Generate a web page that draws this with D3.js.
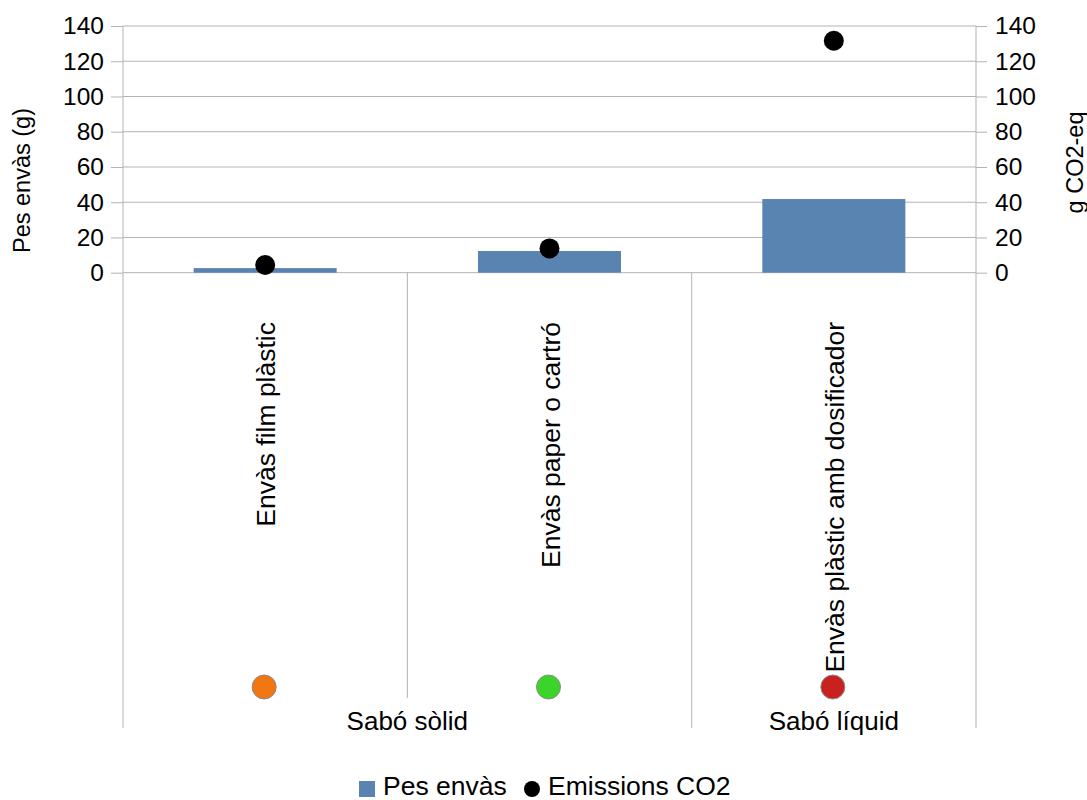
<!DOCTYPE html>
<html>
<head>
<meta charset="utf-8">
<script src="https://cdn.jsdelivr.net/npm/d3@7"></script>
<style>
  body { margin: 0; background: #fff; }
  svg { display: block; font-family: "Liberation Sans", Arial, sans-serif; }
</style>
</head>
<body>
<svg id="chart" width="1087" height="800"></svg>
<script>
const categories = ["Envàs film plàstic", "Envàs paper o cartró", "Envàs plàstic amb dosificador"];
const groupOf = ["Sabó sòlid", "Sabó sòlid", "Sabó líquid"];
const markerColors = ["#f27612", "#3ad42a", "#c9211e"];
const pesEnvas = [2.6, 12.3, 41.8];
const emissionsCO2 = [4.4, 13.8, 131.6];
const yTicks = [0, 20, 40, 60, 80, 100, 120, 140];
const seriesNames = ["Pes envàs", "Emissions CO2"];

const svg = d3.select("#chart");
const L = 123, R = 976, T = 26, B = 272.7;
const catBottom = 698, groupBottom = 728;
const gridColor = "#b3b3b3";
const barColor = "#5983b0";

const x = d3.scaleBand().domain(categories).range([L, R]).padding(0);
const xb = d3.scaleBand().domain(categories).range([L, R]).paddingInner(0.497).paddingOuter(0.2485);
const yL = d3.scaleLinear().domain([0, 140]).range([B, T]);
const yR = d3.scaleLinear().domain([0, 140]).range([B, T]);

// gridlines
svg.append("g").selectAll("line").data(yTicks).join("line")
  .attr("x1", L).attr("x2", R)
  .attr("y1", d => yL(d)).attr("y2", d => yL(d))
  .attr("stroke", gridColor).attr("stroke-width", 1);

// left axis
const axL = svg.append("g").attr("transform", `translate(${L},0)`)
  .call(d3.axisLeft(yL).tickValues(yTicks).tickSize(12).tickPadding(7));
axL.select(".domain").remove();
axL.selectAll(".tick line").attr("stroke", gridColor);
axL.selectAll(".tick text").attr("font-size", 24.5).attr("fill", "#000").attr("font-family", "Liberation Sans, Arial, sans-serif");

const axR = svg.append("g").attr("transform", `translate(${R},0)`)
  .call(d3.axisRight(yR).tickValues(yTicks).tickSize(11).tickPadding(8));
axR.select(".domain").remove();
axR.selectAll(".tick line").attr("stroke", gridColor);
axR.selectAll(".tick text").attr("font-size", 24.5).attr("fill", "#000").attr("font-family", "Liberation Sans, Arial, sans-serif");

// vertical axis lines
[L, R].forEach(px => {
  svg.append("line").attr("x1", px).attr("x2", px).attr("y1", T).attr("y2", groupBottom)
    .attr("stroke", gridColor).attr("stroke-width", 1);
});
// category separators
categories.slice(1).forEach((c, i) => {
  const px = x(c);
  const isGroupBoundary = groupOf[i] !== groupOf[i + 1];
  svg.append("line").attr("x1", px).attr("x2", px).attr("y1", B).attr("y2", isGroupBoundary ? groupBottom : catBottom)
    .attr("stroke", gridColor).attr("stroke-width", 1);
});

// bars
svg.append("g").selectAll("rect").data(categories).join("rect")
  .attr("x", d => xb(d)).attr("width", xb.bandwidth())
  .attr("y", (d, i) => yL(pesEnvas[i]))
  .attr("height", (d, i) => yL(0) - yL(pesEnvas[i]))
  .attr("fill", barColor);

// points
svg.append("g").selectAll("circle").data(categories).join("circle")
  .attr("cx", d => x(d) + x.bandwidth() / 2)
  .attr("cy", (d, i) => yR(emissionsCO2[i]))
  .attr("r", 10).attr("fill", "#000");

// category labels (rotated)
svg.append("g").selectAll("text").data(categories).join("text")
  .attr("transform", d => `translate(${x(d) + x.bandwidth() / 2 + 1},322) rotate(-90)`)
  .attr("text-anchor", "end").attr("dy", "0.35em")
  .attr("font-size", 26.5).attr("fill", "#000")
  .text(d => d);

// colored markers
svg.append("g").selectAll("circle").data(categories).join("circle")
  .attr("cx", d => x(d) + x.bandwidth() / 2 - 1)
  .attr("cy", 687).attr("r", 12)
  .attr("fill", (d, i) => markerColors[i])
  .attr("stroke", "#8a8a8a").attr("stroke-width", 1);

// group labels
const groups = Array.from(new Set(groupOf));
groups.forEach(g => {
  const cats = categories.filter((c, i) => groupOf[i] === g);
  const x0 = x(cats[0]), x1 = x(cats[cats.length - 1]) + x.bandwidth();
  svg.append("text").attr("x", (x0 + x1) / 2).attr("y", 730)
    .attr("text-anchor", "middle").attr("font-size", 26).attr("fill", "#000").text(g);
});

// axis titles
svg.append("text").attr("transform", "translate(30,180.5) rotate(-90)")
  .attr("text-anchor", "middle").attr("font-size", 23.5).attr("fill", "#000").text("Pes envàs (g)");
svg.append("text").attr("transform", "translate(1083,162.5) rotate(-90)")
  .attr("text-anchor", "middle").attr("font-size", 23.5).attr("fill", "#000").text("g CO2-eq");

// legend
const lg = svg.append("g");
lg.append("rect").attr("x", 359).attr("y", 781).attr("width", 16).attr("height", 16).attr("fill", barColor);
lg.append("text").attr("x", 383).attr("y", 794.5).attr("font-size", 26.5).attr("fill", "#000").text(seriesNames[0]);
lg.append("circle").attr("cx", 532).attr("cy", 789).attr("r", 8).attr("fill", "#000");
lg.append("text").attr("x", 548).attr("y", 794.5).attr("font-size", 26.5).attr("fill", "#000").text(seriesNames[1]);
</script>
</body>
</html>
